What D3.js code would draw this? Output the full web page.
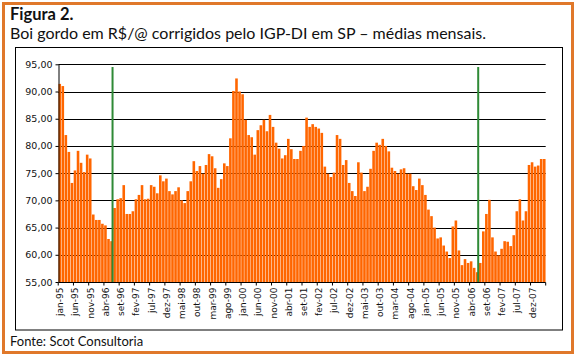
<!DOCTYPE html>
<html><head><meta charset="utf-8">
<script src="https://cdn.jsdelivr.net/npm/d3@7/dist/d3.min.js"></script>
<style>
html,body{margin:0;padding:0;background:#fff;}
svg{display:block;}
</style></head>
<body>
<svg id="chart" width="576" height="357"></svg>
<script>
// ---- data ----
const monthNames = ["jan","fev","mar","abr","mai","jun","jul","ago","set","out","nov","dez"];
const years = ["95","96","97","98","99","00","01","02","03","04","05","06","07","08"];
const lastMonth = "abr-08";
const months = [];
for (const yr of years) for (const m of monthNames) { months.push(m + "-" + yr); }
months.length = months.indexOf(lastMonth) + 1;

const prices = [
 91.4, 91.0, 82.0, 78.9, 73.2, 75.5, 79.1, 76.9, 75.2, 78.4, 77.7, 67.4,
 66.4, 66.4, 65.7, 65.4, 62.9, 62.5, 68.6, 70.2, 70.4, 72.8, 67.5, 67.5,
 68.0, 70.2, 71.0, 72.8, 70.2, 70.3, 72.8, 72.5, 71.3, 74.6, 73.5, 74.0,
 71.7, 71.1, 71.7, 72.4, 70.0, 69.5, 71.7, 73.5, 77.2, 75.4, 76.3, 74.9,
 76.5, 78.5, 78.1, 75.9, 72.3, 73.9, 76.8, 76.3, 81.4, 90.1, 92.4, 90.0,
 89.5, 84.8, 82.0, 81.6, 78.4, 82.9, 83.8, 84.8, 82.7, 85.7, 83.5, 80.6,
 79.5, 77.7, 78.3, 81.3, 79.4, 77.6, 77.6, 79.1, 80.0, 85.2, 83.5, 84.0,
 83.5, 83.2, 82.4, 76.2, 74.9, 74.3, 75.1, 82.0, 81.3, 76.5, 77.4, 73.2,
 71.7, 70.8, 77.0, 75.1, 71.7, 72.5, 75.8, 79.1, 80.6, 80.2, 81.3, 80.0,
 79.0, 76.0, 75.4, 74.9, 75.7, 75.9, 74.9, 74.9, 72.6, 71.9, 74.0, 72.8,
 71.0, 68.3, 67.1, 65.0, 63.0, 63.2, 61.7, 60.6, 59.4, 65.2, 66.3, 60.8,
 58.1, 59.2, 58.5, 58.8, 57.6, 56.8, 58.5, 64.3, 67.5, 70.1, 63.2, 60.6,
 59.9, 61.1, 62.5, 62.4, 61.6, 63.6, 68.0, 70.2, 66.3, 68.0, 76.5, 77.0,
 76.2, 76.4, 77.6, 77.6
];
const markerMonths = ["jun-96", "jun-06"];
const markerValue = 94.5;
const yTicks = [55, 60, 65, 70, 75, 80, 85, 90, 95];
const labelEvery = 5;

const titleText = "Figura 2.";
const subtitleText = "Boi gordo em R$/@ corrigidos pelo IGP-DI em SP – médias mensais.";
const sourceText = "Fonte: Scot Consultoria";

// ---- drawing ----
const svg = d3.select("#chart");
const orange = "#e0782a";
const barColor = "#ff6600";
const green = "#2f8a36";

svg.append("rect").attr("x", 3.5).attr("y", 3.5).attr("width", 569).attr("height", 349)
  .attr("fill", "#fff").attr("stroke", orange).attr("stroke-width", 3);

svg.append("text").attr("x", 10).attr("y", 20)
  .attr("font-family", "Lato, 'Open Sans', sans-serif").attr("font-weight", "bold")
  .attr("font-size", 16.5).attr("fill", "#111").text(titleText);
svg.append("text").attr("x", 10).attr("y", 39)
  .attr("font-family", "Lato, 'Open Sans', sans-serif")
  .attr("font-size", 16).attr("fill", "#111").text(subtitleText);
svg.append("text").attr("x", 10).attr("y", 346)
  .attr("font-family", "Lato, 'Open Sans', sans-serif")
  .attr("font-size", 13).attr("fill", "#111").text(sourceText);

svg.append("rect").attr("x", 15.5).attr("y", 47.5).attr("width", 547).attr("height", 282.5)
  .attr("fill", "none").attr("stroke", "#000").attr("stroke-width", 1);

const pLeft = 58.3, pRight = 545.7, pTop = 64.3, pBottom = 282;
const x = d3.scaleBand().domain(months).range([pLeft, pRight]).paddingInner(0.15).paddingOuter(0.05);
const y = d3.scaleLinear().domain([55, 95]).range([pBottom, pTop]);

// gridlines
svg.append("g").selectAll("line").data(yTicks.filter(t => t > 55)).join("line")
  .attr("x1", pLeft).attr("x2", pRight)
  .attr("y1", d => Math.round(y(d)) + 0.5).attr("y2", d => Math.round(y(d)) + 0.5)
  .attr("stroke", "#000").attr("stroke-width", 1);

// bars
svg.append("g").selectAll("rect").data(prices).join("rect")
  .attr("x", (d, i) => x(months[i]))
  .attr("width", x.bandwidth())
  .attr("y", d => y(d))
  .attr("height", d => y(55) - y(d))
  .attr("fill", barColor);

// green markers
svg.append("g").selectAll("rect").data(markerMonths).join("rect")
  .attr("x", d => x(d) + x.step() * 0.75 - 1)
  .attr("width", 2)
  .attr("y", y(markerValue))
  .attr("height", y(55) - y(markerValue))
  .attr("fill", green);

// y axis
const yAxis = d3.axisLeft(y).tickValues(yTicks).tickSize(3).tickSizeOuter(0)
  .tickFormat(d => d3.format(".2f")(d).replace(".", ","));
const gy = svg.append("g").attr("transform", `translate(${Math.round(pLeft) + 0.5},0)`).call(yAxis);
gy.select(".domain").attr("stroke", "#000");
gy.selectAll(".tick line").attr("stroke", "#000");
gy.selectAll(".tick text").attr("font-family", "'DejaVu Sans', sans-serif").attr("font-size", 9.5)
  .attr("fill", "#111").attr("x", -6);

// x axis
const bottomY = Math.round(pBottom) + 0.5;
svg.append("line").attr("x1", pLeft).attr("x2", pRight).attr("y1", bottomY).attr("y2", bottomY).attr("stroke", "#000");
const tickMonths = months.filter((m, i) => i % labelEvery === 0);
svg.append("g").selectAll("line").data(tickMonths.concat([null])).join("line")
  .attr("x1", d => d === null ? pRight : x(d) - x.step() * x.paddingInner() / 2)
  .attr("x2", d => d === null ? pRight : x(d) - x.step() * x.paddingInner() / 2)
  .attr("y1", bottomY).attr("y2", bottomY + 3).attr("stroke", "#000");
svg.append("g").selectAll("text").data(tickMonths).join("text")
  .attr("transform", d => `translate(${x(d) + x.bandwidth() / 2 + 3.5},${bottomY + 5}) rotate(-90)`)
  .attr("text-anchor", "end")
  .attr("font-family", "'DejaVu Sans', sans-serif").attr("font-size", 9).attr("fill", "#111")
  .text(d => d);
</script>
</body></html>
